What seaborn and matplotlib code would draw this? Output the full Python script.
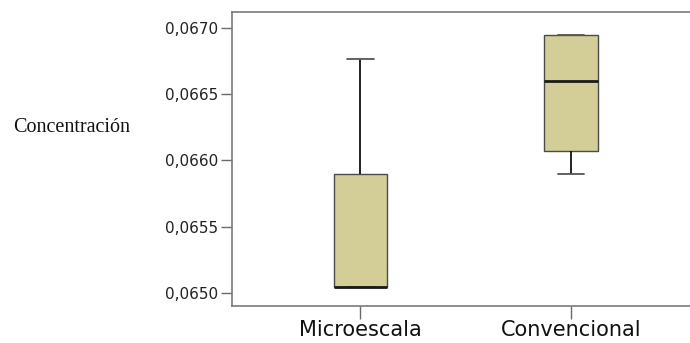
import numpy as np
import pandas as pd
import matplotlib
matplotlib.use("Agg")
import matplotlib.pyplot as plt
import seaborn as sns

# Concentration measurements for each method
categories = ["Microescala", "Convencional"]
microescala = [0.06504, 0.06504, 0.06504, 0.06590, 0.06677]
convencional = [0.06590, 0.06607, 0.06660, 0.06695, 0.06695]
y_ticks = [0.0650, 0.0655, 0.0660, 0.0665, 0.0670]
y_tick_labels = ["0,0650", "0,0655", "0,0660", "0,0665", "0,0670"]

df = pd.DataFrame({
    "Método": [categories[0]] * len(microescala) + [categories[1]] * len(convencional),
    "Concentración": microescala + convencional,
})

sns.set_style("white")
plt.rcParams["font.family"] = ["DejaVu Sans"]

fig = plt.figure(figsize=(6.9, 3.43), dpi=100)
ax = fig.add_axes([232 / 690, 1 - 306 / 343, 1 - 232 / 690 + 0.003, (306 - 12) / 343])

sns.boxplot(
    data=df, x="Método", y="Concentración", order=categories,
    color="#D3CE97", saturation=1, width=0.254, whis=1.5,
    linewidth=1.0, linecolor="#3a3a3a", fliersize=0,
    boxprops=dict(edgecolor="#4a4a4a", linewidth=1.0),
    medianprops=dict(color="#1a1a1a", linewidth=2.0),
    whiskerprops=dict(color="#111111", linewidth=1.3),
    capprops=dict(color="#555555", linewidth=1.3),
    ax=ax,
)

ax.set_xlim(-0.61, 1.575)
ax.set_ylim(0.064899, 0.067122)
ax.set_yticks(y_ticks)
ax.set_yticklabels(y_tick_labels, fontsize=11, color="#222222")
ax.set_xticks(range(len(categories)))
ax.set_xticklabels(categories, fontsize=15, color="#111111")

ax.set_xlabel("")
ax.set_ylabel("")
fig.text(13 / 690, 1 - 128 / 343, "Concentración", family="Liberation Serif",
         fontsize=14.5, color="#111111", va="center", ha="left")

for side in ["left", "top", "bottom"]:
    ax.spines[side].set_visible(True)
    ax.spines[side].set_color("#7a7a7a")
    ax.spines[side].set_linewidth(1.2)
ax.spines["right"].set_visible(False)

ax.tick_params(axis="y", direction="out", length=8, width=1.0, color="#6a6a6a", pad=2, left=True)
ax.tick_params(axis="x", direction="out", length=9, width=1.0, color="#6a6a6a", pad=1, bottom=True)

fig.savefig("out.png", dpi=100)
